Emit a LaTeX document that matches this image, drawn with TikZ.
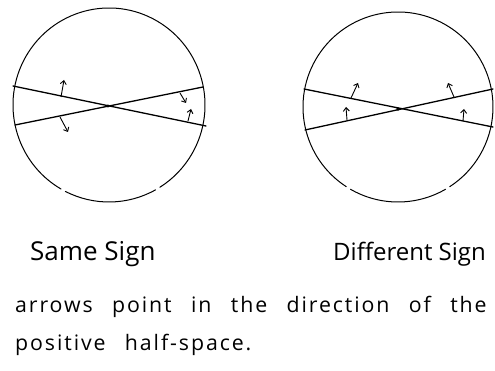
\documentclass[tikz,border=0pt]{standalone}
\usepackage{fontspec}
\setmainfont{Open Sans}
\newfontfamily\handfont[LetterSpace=9,WordSpace=2.6]{Open Sans}
\usetikzlibrary{arrows.meta}
\tikzset{
  rim/.style={line width=1pt, line cap=round},
  plane/.style={line width=1.3pt, line cap=round},
  normalarrow/.style={line width=0.9pt, -{Straight Barb[length=3.5pt,width=6pt]}},
  title/.style={anchor=base west, inner sep=0pt, font=\fontsize{26}{30}\selectfont},
  hand/.style={anchor=base west, inner sep=0pt, font=\handfont\fontsize{21.3}{26}\selectfont}
}
\begin{document}
\begin{tikzpicture}[x=1pt,y=-1pt]
\useasboundingbox (0,0) rectangle (495,371);
% ---------- left circle ----------
\coordinate (cL) at (109,105);
\draw[rim] (cL) ++(61:96 and 97) arc[start angle=61,end angle=117,x radius=96,y radius=97];
\draw[rim] (cL) ++(120:96 and 97) arc[start angle=120,end angle=418,x radius=96,y radius=97];
\coordinate (L1a) at (13,86);  \coordinate (L1b) at (206,126);
\coordinate (L2a) at (15,125); \coordinate (L2b) at (203,87);
\draw[plane] (L1a) -- (L1b);
\draw[plane] (L2a) -- (L2b);
\fill (108,106) circle[radius=1.6];
\coordinate (a1s) at (61,97);  \coordinate (a1e) at (64,80);
\coordinate (a2s) at (60,117); \coordinate (a2e) at (68,132);
\coordinate (a3s) at (180,93); \coordinate (a3e) at (186,103);
\coordinate (a4s) at (188,121);\coordinate (a4e) at (191,109);
\draw[normalarrow] (a1s) -- (a1e);
\draw[normalarrow] (a2s) -- (a2e);
\draw[normalarrow] (a3s) -- (a3e);
\draw[normalarrow] (a4s) -- (a4e);
% ---------- right circle ----------
\coordinate (cR) at (398,107);
\draw[rim] (cR) ++(60:95 and 95) arc[start angle=60,end angle=120,x radius=95,y radius=95];
\draw[rim] (cR) ++(123:95 and 95) arc[start angle=123,end angle=417,x radius=95,y radius=95];
\coordinate (R1a) at (304,89);  \coordinate (R1b) at (493,127);
\coordinate (R2a) at (305,130); \coordinate (R2b) at (493,89);
\draw[plane] (R1a) -- (R1b);
\draw[plane] (R2a) -- (R2b);
\fill (398,109) circle[radius=1.8];
\coordinate (b1s) at (351,98);  \coordinate (b1e) at (358,83);
\coordinate (b2s) at (347,120); \coordinate (b2e) at (346,107);
\coordinate (b3s) at (454,97);  \coordinate (b3e) at (448,83);
\coordinate (b4s) at (463,121); \coordinate (b4e) at (464,109);
\draw[normalarrow] (b1s) -- (b1e);
\draw[normalarrow] (b2s) -- (b2e);
\draw[normalarrow] (b3s) -- (b3e);
\draw[normalarrow] (b4s) -- (b4e);
% ---------- labels ----------
\node[title] (same) at (30,261) {Same Sign};
\node[title, font=\fontsize{24}{28}\selectfont] (diff) at (333,261) {Different Sign};
\node[hand] (cap1) at (15,312) {arrows point in the direction of the};
\node[hand] (cap2) at (15,350) {positive half-space.};
\end{tikzpicture}
\end{document}
